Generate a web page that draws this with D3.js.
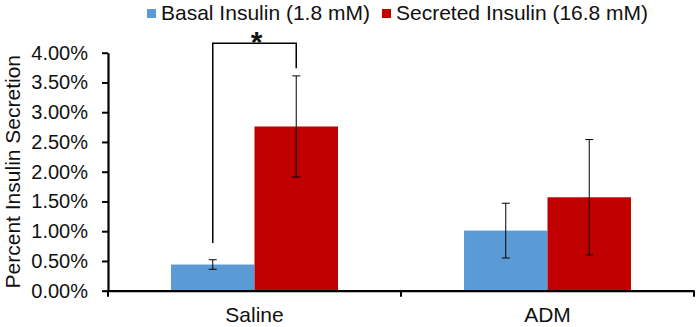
<!DOCTYPE html>
<html>
<head>
<meta charset="utf-8">
<script src="https://cdn.jsdelivr.net/npm/d3@7"></script>
<style>
    body { margin: 0; background: #fff; }
    svg { display: block; font-family: "Liberation Sans", Arial, sans-serif; }
    .axis path, .axis line { stroke: #000; }
    .axis text { fill: #111; }
</style>
</head>
<body>
<div id="chart"></div>
<script>
// data (percent insulin secretion)
const groups = ["Saline", "ADM"];
const series = ["Basal Insulin (1.8 mM)", "Secreted Insulin (16.8 mM)"];
const colors = ["#5b9bd5", "#c00000"];
const means = [[0.44, 2.76], [1.01, 1.57]];
const errors = [[0.08, 0.85], [0.46, 0.97]];
const yTicks = [0, 0.5, 1, 1.5, 2, 2.5, 3, 3.5, 4];
// significance bracket: [left end, top, right end] in percent
const bracket = [0.8, 4.16, 3.74];

const width = 700, height = 327;
const margin = { top: 52.7, right: 6, bottom: 36.3, left: 108 };

const svg = d3.select("#chart").append("svg")
    .attr("width", width)
    .attr("height", height);

const x = d3.scaleBand()
    .domain(groups)
    .range([margin.left, width - margin.right])
    .padding(0);

const x1 = d3.scaleBand()
    .domain(d3.range(series.length))
    .range([0, x.bandwidth()])
    .paddingInner(0)
    .paddingOuter(0.755);

const y = d3.scaleLinear()
    .domain([0, 4])
    .range([height - margin.bottom, margin.top]);

// bars
const rows = groups.flatMap((g, i) => series.map((s, j) => ({
    group: g, k: j, value: means[i][j], err: errors[i][j]
})));

svg.append("g")
    .selectAll("rect")
    .data(rows)
    .join("rect")
    .attr("x", d => x(d.group) + x1(d.k))
    .attr("y", d => y(d.value))
    .attr("width", x1.bandwidth())
    .attr("height", d => y(0) - y(d.value))
    .attr("fill", d => colors[d.k]);

// error bars
const eb = svg.append("g")
    .attr("stroke", "#000")
    .attr("stroke-width", 1)
    .selectAll("g")
    .data(rows)
    .join("g")
    .attr("transform", d => `translate(${x(d.group) + x1(d.k) + x1.bandwidth() / 2},0)`);

eb.append("line")
    .attr("y1", d => y(d.value - d.err))
    .attr("y2", d => y(d.value + d.err));
eb.append("line")
    .attr("x1", -4).attr("x2", 4)
    .attr("y1", d => y(d.value + d.err))
    .attr("y2", d => y(d.value + d.err));
eb.append("line")
    .attr("x1", -4).attr("x2", 4)
    .attr("y1", d => y(d.value - d.err))
    .attr("y2", d => y(d.value - d.err));

// y axis
const yAxis = svg.append("g")
    .attr("class", "axis")
    .attr("transform", `translate(${margin.left},0)`)
    .call(d3.axisLeft(y)
        .tickValues(yTicks)
        .tickFormat(d => d.toFixed(2) + "%")
        .tickSizeInner(6)
        .tickSizeOuter(0)
        .tickPadding(14));
yAxis.select(".domain").attr("stroke-width", 2.2);
yAxis.selectAll(".tick line").attr("stroke-width", 2);
yAxis.selectAll("text").attr("font-size", 20);

// x axis
const xAxis = svg.append("g")
    .attr("class", "axis")
    .attr("transform", `translate(0,${y(0)})`)
    .call(d3.axisBottom(x).tickSize(0).tickPadding(16));
xAxis.select(".domain").attr("stroke-width", 2.2);
xAxis.selectAll("text").attr("font-size", 21);

// category boundary ticks
const bounds = groups.map(g => x(g)).concat([x.range()[1]]);
xAxis.selectAll(".bound")
    .data(bounds)
    .join("line")
    .attr("class", "bound")
    .attr("x1", d => d).attr("x2", d => d)
    .attr("y1", 0).attr("y2", 6)
    .attr("stroke", "#000")
    .attr("stroke-width", 2);

// y title
svg.append("text")
    .attr("transform", `translate(20,${(y(0) + y(4)) / 2}) rotate(-90)`)
    .attr("text-anchor", "middle")
    .attr("font-size", 21)
    .attr("fill", "#111")
    .text("Percent Insulin Secretion");

// significance bracket
const bx0 = x(groups[0]) + x1(0) + x1.bandwidth() / 2;
const bx1 = x(groups[0]) + x1(1) + x1.bandwidth() / 2;
svg.append("path")
    .attr("d", `M${bx0},${y(bracket[0])}V${y(bracket[1])}H${bx1}V${y(bracket[2])}`)
    .attr("fill", "none")
    .attr("stroke", "#000")
    .attr("stroke-width", 1.5);

svg.append("text")
    .attr("x", (bx0 + bx1) / 2 + 2)
    .attr("y", y(bracket[1]) + 9)
    .attr("text-anchor", "middle")
    .attr("font-size", 30)
    .attr("font-weight", "bold")
    .attr("fill", "#111")
    .text("*");

// legend
const legendX = [147, 382];
const legend = svg.append("g")
    .selectAll("g")
    .data(series)
    .join("g")
    .attr("transform", (d, i) => `translate(${legendX[i]},9)`);

legend.append("rect")
    .attr("width", 9)
    .attr("height", 9)
    .attr("fill", (d, i) => colors[i]);

legend.append("text")
    .attr("x", 14)
    .attr("y", 10.5)
    .attr("font-size", 21)
    .attr("fill", "#111")
    .text(d => d);
</script>
</body>
</html>
